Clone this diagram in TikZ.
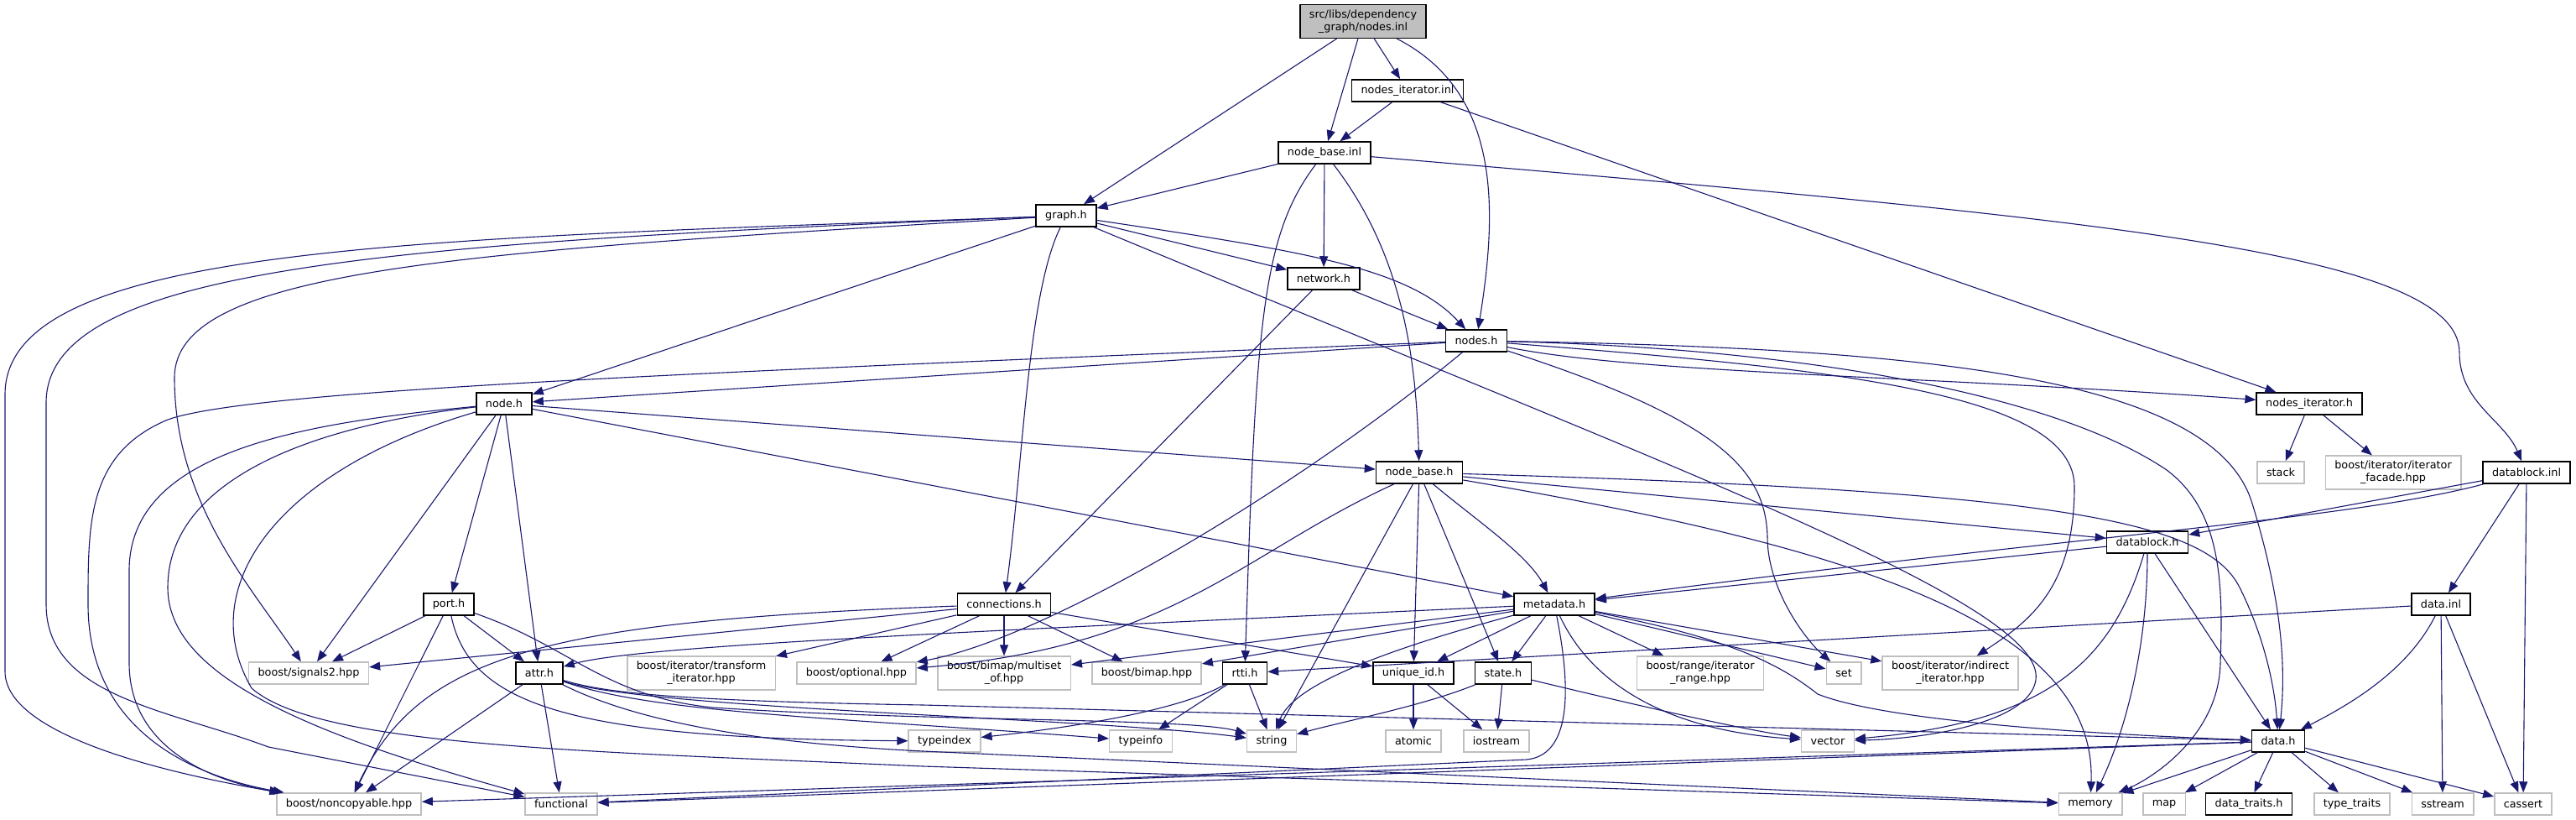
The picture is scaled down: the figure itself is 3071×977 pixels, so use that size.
\documentclass[tikz,border=0pt]{standalone}
\usepackage{fontspec}
\setmainfont{DejaVu Sans}
\usetikzlibrary{arrows.meta}
\definecolor{azulosc}{HTML}{191970}
\definecolor{grisclaro}{HTML}{BFBFBF}
\tikzset{
  doc/.style={rectangle, draw=black, fill=white, line width=0.75pt, align=center,
              font=\fontsize{6.4}{7.5}\selectfont, inner xsep=5.5pt, inner ysep=3pt, minimum height=13pt},
  ext/.style={doc, draw=grisclaro},
  raiz/.style={doc, fill=grisclaro},
  flecha/.style={-{Triangle[length=6.5pt,width=5pt]}, draw=azulosc, line width=0.55pt}
}
\begin{document}
\begin{tikzpicture}[x=0.5pt,y=-0.5pt]
\useasboundingbox (0,0) rectangle (3071,977);

\node[raiz] (raiz) at (1625,25.5) {src/libs/dependency\\\_graph/nodes.inl};
\node[doc] (itinl) at (1678,108) {nodes\_iterator.inl};
\node[doc] (nbinl) at (1579,182) {node\_base.inl};
\node[doc] (graph) at (1271,257) {graph.h};
\node[doc] (network) at (1578,332) {network.h};
\node[doc] (nodes) at (1760,406) {nodes.h};
\node[doc] (node) at (601,481) {node.h};
\node[doc] (ith) at (2753,481) {nodes\_iterator.h};
\node[ext] (stack) at (2719,563) {stack};
\node[ext] (facade) at (2853,563) {boost/iterator/iterator\\\_facade.hpp};
\node[doc] (dbinl) at (3012,563) {datablock.inl};
\node[doc] (nbh) at (1692,563) {node\_base.h};
\node[doc] (dbh) at (2560,646) {datablock.h};
\node[doc] (port) at (535,720) {port.h};
\node[doc] (conn) at (1197,720) {connections.h};
\node[doc] (meta) at (1853,720) {metadata.h};
\node[doc] (datainl) at (2910,720) {data.inl};
\node[ext] (sig) at (368,802) {boost/signals2.hpp};
\node[doc] (attr) at (643,802) {attr.h};
\node[ext] (transform) at (836,802) {boost/iterator/transform\\\_iterator.hpp};
\node[ext] (optional) at (1021,802) {boost/optional.hpp};
\node[ext] (multiset) at (1197,802) {boost/bimap/multiset\\\_of.hpp};
\node[ext] (bimap) at (1367,802) {boost/bimap.hpp};
\node[doc] (rtti) at (1484,802) {rtti.h};
\node[doc] (uid) at (1685,802) {unique\_id.h};
\node[doc] (state) at (1792,802) {state.h};
\node[ext] (range) at (2027,802) {boost/range/iterator\\\_range.hpp};
\node[ext] (set) at (2198,802) {set};
\node[ext] (indirect) at (2325,802) {boost/iterator/indirect\\\_iterator.hpp};
\node[ext] (typeindex) at (1126,883) {typeindex};
\node[ext] (typeinfo) at (1360,883) {typeinfo};
\node[ext] (string) at (1516,883) {string};
\node[ext] (atomic) at (1685,883) {atomic};
\node[ext] (iostream) at (1784,883) {iostream};
\node[ext] (vector) at (2179,883) {vector};
\node[doc] (datah) at (2716,883) {data.h};
\node[ext] (noncopy) at (416,958) {boost/noncopyable.hpp};
\node[ext] (functional) at (669,958) {functional};
\node[ext] (memory) at (2492,958) {memory};
\node[ext] (map) at (2580,958) {map};
\node[doc] (traits) at (2681,958) {data\_traits.h};
\node[ext] (typetraits) at (2804,958) {type\_traits};
\node[ext] (sstream) at (2912,958) {sstream};
\node[ext] (cassert) at (3008,958) {cassert};

\draw[flecha] (raiz) -- (graph);
\draw[flecha] (raiz) -- (nbinl);
\draw[flecha] (raiz) -- (itinl);
\draw[flecha] (raiz) .. controls (1790,110) and (1785,250) .. (nodes);
\draw[flecha] (itinl) -- (nbinl);
\draw[flecha] (itinl) -- (ith);
\draw[flecha] (nbinl) -- (graph);
\draw[flecha] (nbinl) -- (network);
\draw[flecha] (nbinl) .. controls (1505,280) and (1497,380) .. (rtti);
\draw[flecha] (nbinl) .. controls (1670,300) and (1688,420) .. (nbh);
\draw[flecha] (nbinl) .. controls (2500,260) and (2932,300) .. (2932,420) .. controls (2932,480) and (2985,500) .. (dbinl);

\draw[flecha] (graph) -- (network);
\draw[flecha] (graph) .. controls (1560,300) and (1680,320) .. (nodes);
\draw[flecha] (graph) -- (node);
\draw[flecha] (graph) .. controls (1225,350) and (1220,550) .. (conn);
\draw[flecha] (graph) .. controls (2000,560) and (2440,720) .. (2427,810) .. controls (2420,860) and (2300,880) .. (vector);
\draw[flecha] (graph) .. controls (500,285) and (6,290) .. (6,470) -- (6,800) .. controls (6,880) and (220,925) .. (noncopy);
\draw[flecha] (graph) .. controls (450,290) and (55,320) .. (55,480) -- (55,720) .. controls (55,830) and (200,845) .. (320,890) -- (functional);
\draw[flecha] (graph) .. controls (550,300) and (208,320) .. (208,450) .. controls (208,600) and (300,700) .. (sig);

\draw[flecha] (network) -- (nodes);
\draw[flecha] (network) -- (conn);

\draw[flecha] (nodes) -- (node);
\draw[flecha] (nodes) .. controls (800,445) and (300,465) .. (200,500) .. controls (105,540) and (105,620) .. (105,720) .. controls (105,870) and (230,925) .. (noncopy);
\draw[flecha] (nodes) .. controls (1550,580) and (1250,760) .. (optional);
\draw[flecha] (nodes) .. controls (1950,445) and (2300,448) .. (ith);
\draw[flecha] (nodes) .. controls (2300,415) and (2640,450) .. (2685,600) .. controls (2722,720) and (2725,800) .. (datah);
\draw[flecha] (nodes) .. controls (2150,415) and (2450,470) .. (2583,560) .. controls (2650,610) and (2650,700) .. (2647,790) .. controls (2645,880) and (2560,930) .. (memory);
\draw[flecha] (nodes) .. controls (2200,440) and (2473,470) .. (2473,580) .. controls (2473,700) and (2420,740) .. (indirect);
\draw[flecha] (nodes) .. controls (2050,500) and (2105,560) .. (2107,640) .. controls (2107,700) and (2150,760) .. (set);

\draw[flecha] (node) -- (sig);
\draw[flecha] (node) -- (port);
\draw[flecha] (node) -- (attr);
\draw[flecha] (node) -- (nbh);
\draw[flecha] (node) -- (meta);
\draw[flecha] (node) .. controls (350,505) and (154,540) .. (154,680) -- (154,790) .. controls (154,890) and (250,930) .. (noncopy);
\draw[flecha] (node) .. controls (350,510) and (200,580) .. (200,700) .. controls (200,800) and (350,870) .. (functional);
\draw[flecha] (node) .. controls (330,560) and (230,700) .. (300,820) .. controls (380,890) and (700,895) .. (1100,913) -- (memory);

\draw[flecha] (nbh) .. controls (1480,660) and (1400,770) .. (optional);
\draw[flecha] (nbh) -- (string);
\draw[flecha] (nbh) -- (uid);
\draw[flecha] (nbh) -- (state);
\draw[flecha] (nbh) .. controls (1760,620) and (1820,660) .. (meta);
\draw[flecha] (nbh) -- (dbh);
\draw[flecha] (nbh) .. controls (2450,585) and (2630,620) .. (2670,700) .. controls (2700,760) and (2712,820) .. (datah);
\draw[flecha] (nbh) .. controls (2200,650) and (2500,740) .. (memory);

\draw[flecha] (port) -- (sig);
\draw[flecha] (port) -- (noncopy);
\draw[flecha] (port) -- (attr);
\draw[flecha] (port) .. controls (560,840) and (680,880) .. (typeindex);
\draw[flecha] (port) .. controls (680,770) and (720,830) .. (850,843) .. controls (1100,860) and (1420,855) .. (string);

\draw[flecha] (attr) -- (noncopy);
\draw[flecha] (attr) -- (functional);
\draw[flecha] (attr) .. controls (720,825) and (800,835) .. (1100,840) -- (datah);
\draw[flecha] (attr) .. controls (780,850) and (1000,855) .. (typeinfo);
\draw[flecha] (attr) .. controls (770,845) and (1300,855) .. (string);
\draw[flecha] (attr) .. controls (760,860) and (900,885) .. (1100,895) -- (memory);

\draw[flecha] (conn) .. controls (650,740) and (500,780) .. (noncopy);
\draw[flecha] (conn) -- (sig);
\draw[flecha] (conn) -- (transform);
\draw[flecha] (conn) -- (optional);
\draw[flecha] (conn) -- (multiset);
\draw[flecha] (conn) -- (bimap);
\draw[flecha] (conn) -- (uid);

\draw[flecha] (meta) .. controls (1100,755) and (760,770) .. (attr);
\draw[flecha] (meta) -- (multiset);
\draw[flecha] (meta) -- (bimap);
\draw[flecha] (meta) .. controls (1630,780) and (1540,820) .. (string);
\draw[flecha] (meta) -- (uid);
\draw[flecha] (meta) -- (state);
\draw[flecha] (meta) -- (range);
\draw[flecha] (meta) -- (set);
\draw[flecha] (meta) -- (indirect);
\draw[flecha] (meta) .. controls (2060,760) and (2120,790) .. (2167,827) .. controls (2250,860) and (2500,875) .. (datah);
\draw[flecha] (meta) .. controls (1895,810) and (1980,870) .. (vector);
\draw[flecha] (meta) .. controls (1875,830) and (1870,900) .. (1820,905) -- (functional);

\draw[flecha] (rtti) .. controls (1400,850) and (1250,870) .. (typeindex);
\draw[flecha] (rtti) -- (typeinfo);
\draw[flecha] (rtti) -- (string);
\draw[flecha] (uid) -- (atomic);
\draw[flecha] (uid) -- (iostream);
\draw[flecha] (state) .. controls (1700,840) and (1600,860) .. (string);
\draw[flecha] (state) -- (iostream);
\draw[flecha] (state) .. controls (1950,840) and (2080,870) .. (vector);

\draw[flecha] (ith) -- (stack);
\draw[flecha] (ith) -- (facade);

\draw[flecha] (dbinl) -- (dbh);
\draw[flecha] (dbinl) .. controls (2800,620) and (2450,640) .. (meta);
\draw[flecha] (dbinl) -- (datainl);
\draw[flecha] (dbinl) -- (cassert);

\draw[flecha] (dbh) -- (meta);
\draw[flecha] (dbh) .. controls (2520,780) and (2450,860) .. (vector);
\draw[flecha] (dbh) .. controls (2560,780) and (2530,880) .. (memory);
\draw[flecha] (dbh) -- (datah);

\draw[flecha] (datainl) -- (rtti);
\draw[flecha] (datainl) .. controls (2870,800) and (2800,840) .. (datah);
\draw[flecha] (datainl) -- (sstream);
\draw[flecha] (datainl) -- (cassert);

\draw[flecha] (datah) -- (noncopy);
\draw[flecha] (datah) -- (functional);
\draw[flecha] (datah) -- (memory);
\draw[flecha] (datah) -- (map);
\draw[flecha] (datah) -- (traits);
\draw[flecha] (datah) -- (typetraits);
\draw[flecha] (datah) -- (sstream);
\draw[flecha] (datah) -- (cassert);
\end{tikzpicture}
\end{document}
